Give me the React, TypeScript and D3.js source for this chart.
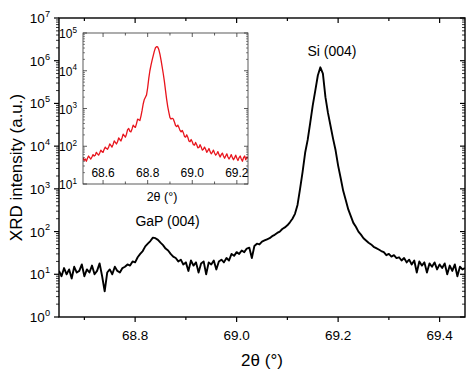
import React from 'react';
import * as d3 from 'd3';

// main scan: 2theta grid start/step, intensity in a.u.
const mainStart = 68.65;
const mainStep = 0.005;
const mainCounts = [
  12, 9, 14, 10, 13, 8, 15, 11, 12, 17, 9, 13, 11, 16, 10, 12, 18, 9, 4, 11,
  13, 10, 15, 12, 11, 14, 15, 17, 16, 20, 19, 25, 30, 35, 45, 52, 60, 72, 70, 64,
  55, 48, 40, 36, 30, 26, 24, 20, 22, 17, 19, 12, 21, 16, 19, 11, 18, 20, 10, 19,
  17, 21, 13, 20, 22, 19, 24, 21, 30, 27, 33, 30, 36, 33, 40, 42, 24, 46, 52, 50,
  58, 62, 66, 70, 78, 84, 93, 100, 115, 125, 140, 165, 200, 260, 420, 1000, 2500, 7000, 14000, 35000,
  90000, 200000, 450000, 700000, 500000, 140000, 60000, 30000, 15000, 8000, 3500, 1800, 900, 550, 330, 230, 160, 130, 100, 85,
  70, 62, 55, 50, 44, 41, 38, 35, 33, 28, 30, 26, 28, 24, 25, 21, 24, 19, 22, 17,
  21, 11, 20, 16, 19, 11, 18, 15, 19, 13, 17, 14, 18, 10, 16, 12, 17, 9, 15, 13,
  14,
];

// inset scan (red)
const insetStart = 68.51;
const insetStep = 0.005;
const insetCounts = [
  50, 42, 46, 40, 48, 55, 50, 46, 52, 60, 55, 58, 69, 63, 58, 66, 79, 72, 69, 83,
  95, 87, 83, 95, 115, 105, 95, 112, 138, 126, 115, 132, 166, 151, 138, 166, 209, 191, 174, 209,
  275, 295, 251, 240, 288, 363, 331, 316, 398, 525, 501, 479, 631, 891, 1318, 1738, 1995, 2291, 3548, 6310,
  10000, 14125, 19055, 25119, 33113, 40738, 43652, 42658, 36308, 27542, 19055, 12589, 8318, 5248, 3020, 1778, 1122, 794, 575, 525,
  550, 525, 437, 355, 331, 363, 316, 263, 240, 263, 229, 182, 174, 200, 174, 138, 132, 151, 132, 110,
  107, 126, 110, 91, 93, 110, 95, 79, 83, 95, 83, 69, 76, 87, 72, 63, 69, 79, 66, 58,
  63, 72, 60, 52, 60, 66, 55, 48, 55, 63, 52, 46, 52, 60, 50, 44, 50, 58, 48, 42,
  50, 55, 46, 40, 50, 55, 44, 52, 48,
];

const mainXTicks = [68.8, 69.0, 69.2, 69.4];
const mainXMinor = [68.7, 68.9, 69.1, 69.3];
const mainYExp = [0, 1, 2, 3, 4, 5, 6, 7];
const insetXTicks = [68.6, 68.8, 69.0, 69.2];
const insetXMinor = [68.7, 68.9, 69.1];
const insetYExp = [1, 2, 3, 4, 5];

const peakNames = ['Si (004)', 'GaP (004)'];
const peakTheta = [69.188, 68.864];
const peakLevel = [1.3e6, 135];

const FONT = 'Liberation Sans, Arial, sans-serif';

const Pow = ({ x, y, e, size, anchor = 'end' }: any) => (
  <text x={x} y={y} fontSize={size} textAnchor={anchor} fontFamily={FONT} fill="#000">
    10<tspan dy={-size * 0.45} fontSize={size * 0.68}>{e}</tspan>
  </text>
);

const minorLog = (lo: number, hi: number) => {
  const out: number[] = [];
  for (let e = lo; e < hi; e++) for (let m = 2; m <= 9; m++) out.push(m * Math.pow(10, e));
  return out;
};

export default function App() {
  const W = 474, H = 372;
  const x = d3.scaleLinear().domain([68.65, 69.45]).range([59, 465]);
  const y = d3.scaleLog().domain([1, 1e7]).range([317, 18]);
  const ix = d3.scaleLinear().domain([68.51, 69.25]).range([83, 248]);
  const iy = d3.scaleLog().domain([10, 1e5]).range([184, 33]);

  const mainPts = mainCounts.map((c, i) => [mainStart + i * mainStep, c] as [number, number]);
  const insetPts = insetCounts.map((c, i) => [insetStart + i * insetStep, c] as [number, number]);
  const mainLine = d3.line<[number, number]>().x(d => x(d[0])).y(d => y(d[1]))(mainPts) || '';
  const insetLine = d3.line<[number, number]>().x(d => ix(d[0])).y(d => iy(d[1]))(insetPts) || '';

  const [x0, x1] = x.range();
  const [y0, y1] = y.range();
  const [ix0, ix1] = ix.range();
  const [iy0, iy1] = iy.range();
  const mMinor = minorLog(0, 7);
  const iMinor = minorLog(1, 5);

  return (
    <svg width={W} height={H} style={{ position: 'absolute', left: 0, top: 0, background: '#fff' }}>
      <rect width={W} height={H} fill="#fff" />
      <defs>
        <clipPath id="mainClip"><rect x={x0} y={y1} width={x1 - x0} height={y0 - y1} /></clipPath>
        <clipPath id="insetClip"><rect x={ix0} y={iy1} width={ix1 - ix0} height={iy0 - iy1} /></clipPath>
      </defs>

      {/* main data */}
      <path d={mainLine} fill="none" stroke="#000" strokeWidth={1.9} strokeLinejoin="round" clipPath="url(#mainClip)" />

      {/* main frame + ticks */}
      <g stroke="#000" strokeWidth={1.2}>
        {mainXTicks.map(t => (
          <g key={'mx' + t}>
            <line x1={x(t)} x2={x(t)} y1={y0} y2={y0 + 5} />
            <line x1={x(t)} x2={x(t)} y1={y1} y2={y1 + 5} />
          </g>
        ))}
        {mainXMinor.map(t => (
          <g key={'mxm' + t}>
            <line x1={x(t)} x2={x(t)} y1={y0} y2={y0 + 3} />
            <line x1={x(t)} x2={x(t)} y1={y1} y2={y1 + 3} />
          </g>
        ))}
        {mainYExp.map(e => (
          <g key={'my' + e}>
            <line x1={x0 - 5} x2={x0} y1={y(Math.pow(10, e))} y2={y(Math.pow(10, e))} />
            <line x1={x1 - 5} x2={x1} y1={y(Math.pow(10, e))} y2={y(Math.pow(10, e))} />
          </g>
        ))}
        {mMinor.map(v => (
          <g key={'mym' + v} strokeWidth={0.8}>
            <line x1={x0 - 3} x2={x0} y1={y(v)} y2={y(v)} />
            <line x1={x1 - 3} x2={x1} y1={y(v)} y2={y(v)} />
          </g>
        ))}
        <rect x={x0} y={y1} width={x1 - x0} height={y0 - y1} fill="none" strokeWidth={1.4} />
      </g>

      {mainXTicks.map(t => (
        <text key={'mxl' + t} x={x(t)} y={340} fontSize={13.5} textAnchor="middle" fontFamily={FONT}>
          {t.toFixed(1)}
        </text>
      ))}
      {mainYExp.map(e => (
        <Pow key={'myl' + e} x={50} y={y(Math.pow(10, e)) + 5} e={e} size={13.5} />
      ))}
      <text x={262} y={366} fontSize={17} textAnchor="middle" fontFamily={FONT}>2θ (°)</text>
      <text transform={`translate(22,${(y0 + y1) / 2}) rotate(-90)`} fontSize={17} textAnchor="middle" fontFamily={FONT}>
        XRD intensity (a.u.)
      </text>

      {peakNames.map((n, i) => (
        <text key={n} x={x(peakTheta[i])} y={y(peakLevel[i])} fontSize={14} textAnchor="middle" fontFamily={FONT}>
          {n}
        </text>
      ))}

      {/* inset */}
      <rect x={ix0} y={iy1} width={ix1 - ix0} height={iy0 - iy1} fill="#fff" />
      <path d={insetLine} fill="none" stroke="#e8141c" strokeWidth={1.3} strokeLinejoin="round" clipPath="url(#insetClip)" />
      <g stroke="#333" strokeWidth={0.8}>
        {insetXTicks.map(t => (
          <g key={'ix' + t}>
            <line x1={ix(t)} x2={ix(t)} y1={iy0} y2={iy0 - 4} />
            <line x1={ix(t)} x2={ix(t)} y1={iy1} y2={iy1 + 4} />
          </g>
        ))}
        {insetXMinor.map(t => (
          <g key={'ixm' + t}>
            <line x1={ix(t)} x2={ix(t)} y1={iy0} y2={iy0 - 2.5} />
            <line x1={ix(t)} x2={ix(t)} y1={iy1} y2={iy1 + 2.5} />
          </g>
        ))}
        {insetYExp.map(e => (
          <g key={'iy' + e}>
            <line x1={ix0} x2={ix0 + 4} y1={iy(Math.pow(10, e))} y2={iy(Math.pow(10, e))} />
            <line x1={ix1 - 4} x2={ix1} y1={iy(Math.pow(10, e))} y2={iy(Math.pow(10, e))} />
          </g>
        ))}
        {iMinor.map(v => (
          <g key={'iym' + v} strokeWidth={0.6}>
            <line x1={ix0} x2={ix0 + 2} y1={iy(v)} y2={iy(v)} />
            <line x1={ix1 - 2} x2={ix1} y1={iy(v)} y2={iy(v)} />
          </g>
        ))}
        <rect x={ix0} y={iy1} width={ix1 - ix0} height={iy0 - iy1} fill="none" />
      </g>
      {insetXTicks.map(t => (
        <text key={'ixl' + t} x={ix(t)} y={iy0 - 7} fontSize={12} textAnchor="middle" fontFamily={FONT}>
          {t.toFixed(1)}
        </text>
      ))}
      {insetYExp.map(e => (
        <Pow key={'iyl' + e} x={ix0 - 6} y={iy(Math.pow(10, e)) + 5} e={e} size={12} />
      ))}
      <text x={162} y={iy0 + 17} fontSize={12.5} textAnchor="middle" fontFamily={FONT}>2θ (°)</text>
    </svg>
  );
}
